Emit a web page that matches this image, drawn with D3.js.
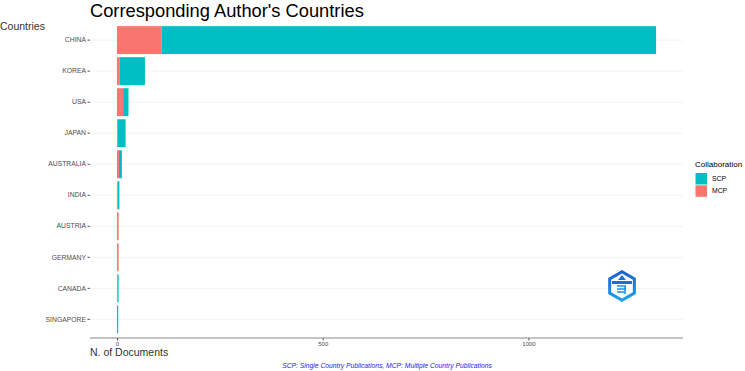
<!DOCTYPE html>
<html><head><meta charset="utf-8">
<script src="https://cdn.jsdelivr.net/npm/d3@7"></script>
<style>body{margin:0;background:#fff;} svg{display:block;font-family:"Liberation Sans",Arial,sans-serif;}</style>
</head><body>
<svg id="c" width="745" height="371"></svg>
<script>
const countries = ["CHINA","KOREA","USA","JAPAN","AUSTRALIA","INDIA","AUSTRIA","GERMANY","CANADA","SINGAPORE"];
const scp = [1202, 61, 13, 19, 7, 4, 0, 0, 3, 3];
const mcp = [108, 7, 15, 2, 5, 2, 4, 4, 1, 0];
const xTicks = [0, 500, 1000];
const seriesNames = ["SCP","MCP"];
const seriesColors = ["#00BFC4","#F8766D"];

const svg = d3.select("#c");
const L = 90, R = 683, T = 21.5, B = 338;
const totals = countries.map((c,i)=>scp[i]+mcp[i]);
const maxT = d3.max(totals);
const x = d3.scaleLinear().domain([-0.05*maxT, 1.05*maxT]).range([L,R]);
const y = d3.scaleBand().domain(countries).range([T,B]).paddingInner(0.1).paddingOuter(0.15);

// gridlines
svg.append("g").selectAll("line").data(countries).join("line")
  .attr("x1",L).attr("x2",R)
  .attr("y1",d=>y(d)+y.bandwidth()/2).attr("y2",d=>y(d)+y.bandwidth()/2)
  .attr("stroke","#ebebeb").attr("stroke-width",0.6);

// bars
const rows = countries.map((c,i)=>({c, mcp:mcp[i], scp:scp[i]}));
const g = svg.append("g");
g.selectAll("rect.m").data(rows).join("rect")
  .attr("x",x(0)).attr("y",d=>y(d.c)).attr("height",y.bandwidth())
  .attr("width",d=>x(d.mcp)-x(0)).attr("fill",seriesColors[1]);
g.selectAll("rect.s").data(rows).join("rect")
  .attr("x",d=>x(d.mcp)).attr("y",d=>y(d.c)).attr("height",y.bandwidth())
  .attr("width",d=>x(d.mcp+d.scp)-x(d.mcp)).attr("fill",seriesColors[0]);

// x axis
const xa = svg.append("g").attr("transform",`translate(0,${B})`)
  .call(d3.axisBottom(x).tickValues(xTicks).tickFormat(d3.format("d")).tickSize(2.5).tickPadding(1));
xa.select(".domain").attr("d",`M${L},0H${R}`).attr("stroke","#8a8a8a").attr("stroke-width",1.2);
xa.selectAll(".tick line").attr("stroke","#555");
xa.selectAll("text").attr("font-size",6).attr("fill","#4d4d4d").attr("font-family","Liberation Sans, Arial, sans-serif");

// y axis
const ya = svg.append("g").attr("transform",`translate(${L},0)`)
  .call(d3.axisLeft(y).tickSize(2.5).tickPadding(1.5));
ya.select(".domain").remove();
ya.selectAll(".tick line").attr("stroke","#555");
ya.selectAll("text").attr("font-size",6.8).attr("fill","#4d4d4d").attr("font-family","Liberation Sans, Arial, sans-serif");

// titles
svg.append("text").attr("x",90).attr("y",17).attr("font-size",18.3).attr("fill","#000").text("Corresponding Author's Countries");
svg.append("text").attr("x",0).attr("y",30).attr("font-size",10.5).attr("fill","#333").text("Countries");
svg.append("text").attr("x",90).attr("y",356).attr("font-size",10.5).attr("fill","#333").text("N. of Documents");
svg.append("text").attr("x",387).attr("y",368).attr("text-anchor","middle").attr("font-size",6.75).attr("font-style","italic").attr("fill","#1a1aff").text("SCP: Single Country Publications, MCP: Multiple Country Publications");

// legend
const lg = svg.append("g");
lg.append("text").attr("x",695).attr("y",167).attr("font-size",8).attr("fill","#000").text("Collaboration");
seriesNames.forEach((s,i)=>{
  lg.append("rect").attr("x",695.5).attr("y",173+i*12.3).attr("width",11.5).attr("height",11.5).attr("fill",seriesColors[i]);
  lg.append("text").attr("x",712).attr("y",181+i*12.3).attr("font-size",6.8).attr("fill","#000").text(s);
});

// logo
const defs = svg.append("defs");
const gr = defs.append("linearGradient").attr("id","lgr").attr("x1",0).attr("y1",0).attr("x2",0).attr("y2",1);
gr.append("stop").attr("offset","0").attr("stop-color","#1a5fc8");
gr.append("stop").attr("offset","1").attr("stop-color","#1aa3f0");
const cx = 622, cy = 286, rr = 16;
const hex = d3.range(6).map(k=>{const a=Math.PI/6+k*Math.PI/3;return [cx+rr*Math.cos(a), cy+rr*Math.sin(a)];});
svg.append("polygon").attr("points",hex.map(p=>p.join(",")).join(" ")).attr("fill","url(#lgr)");
const hex2 = d3.range(6).map(k=>{const a=Math.PI/6+k*Math.PI/3;return [cx+12.5*Math.cos(a), cy+12.5*Math.sin(a)];});
svg.append("polygon").attr("points",hex2.map(p=>p.join(",")).join(" ")).attr("fill","#fff");
svg.append("rect").attr("x",cx-10).attr("y",cy-5).attr("width",20).attr("height",3).attr("fill","#1e6fd0");
svg.append("path").attr("d",`M${cx-4},${cy-6}L${cx},${cy-11}L${cx+4},${cy-6}Z`).attr("fill","#1e6fd0");
svg.append("path").attr("d",`M${cx-5},${cy}h9M${cx-5},${cy+3}h9M${cx-5},${cy+6}h7M${cx+3},${cy}v8`).attr("stroke","#1a90e8").attr("stroke-width",1.6).attr("fill","none");
</script>
</body></html>
